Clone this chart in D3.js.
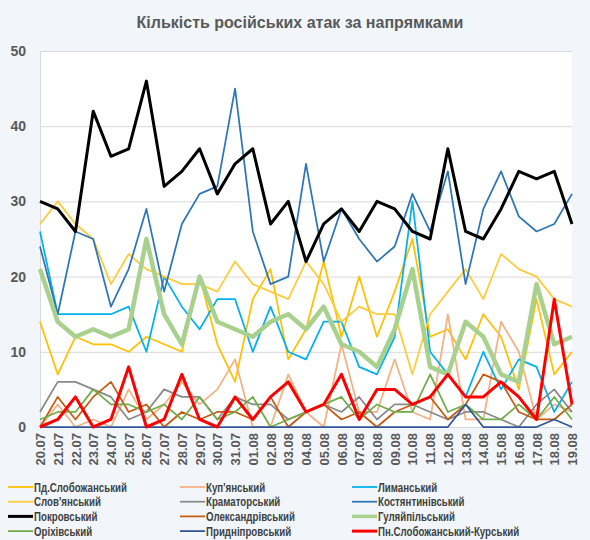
<!DOCTYPE html>
<html>
<head>
<meta charset="utf-8">
<script src="https://cdn.jsdelivr.net/npm/d3@7"></script>
<style>
    body { margin: 0; background: #F2F6FA; }
    #chart svg { display: block; }
</style>
</head>
<body>
<div id="chart"></div>
<script>
const dates = ["20.07", "21.07", "22.07", "23.07", "24.07", "25.07", "26.07", "27.07", "28.07", "29.07", "30.07", "31.07",
    "01.08", "02.08", "03.08", "04.08", "05.08", "06.08", "07.08", "08.08", "09.08", "10.08", "11.08", "12.08",
    "13.08", "14.08", "15.08", "16.08", "17.08", "18.08", "19.08"]

const seriesNames = ["Пд.Слобожанський", "Куп'янський", "Лиманський", "Слов'янський", "Краматорський", "Костянтинівський",
    "Покровський", "Олександрівський", "Гуляйпільський", "Оріхівський", "Придніпровський", "Пн.Слобожанський-Курський"]

const pdSlobozhanskyi = [14, 7, 12, 11, 11, 10, 12, 11, 10, 20, 11, 6, 17, 21, 9, 13, 22, 12, 20, 12, 18, 25, 12, 13, 9, 15, 12, 5, 17, 7, 10]
const kupianskyi = [0, 3, 0, 1, 0, 5, 1, 3, 6, 3, 5, 9, 0, 0, 7, 2, 0, 11, 2, 2, 9, 2, 1, 15, 1, 1, 14, 10, 1, 3, 2]
const lymanskyi = [26, 15, 15, 15, 15, 16, 10, 20, 16, 13, 17, 17, 10, 16, 10, 9, 14, 14, 8, 7, 12, 30, 10, 7, 4, 10, 5, 9, 8, 2, 6]
const sloviianskyi = [27, 30, 27, 25, 19, 23, 21, 20, 19, 19, 18, 22, 19, 18, 17, 22, 19, 14, 16, 15, 15, 7, 15, 18, 21, 17, 23, 21, 20, 17, 16]
const kramatorskyi = [2, 6, 6, 5, 4, 1, 2, 5, 4, 4, 1, 4, 3, 3, 1, 2, 3, 2, 4, 1, 3, 3, 2, 1, 2, 2, 1, 0, 3, 5, 2]
const kostiantynivskyi = [24, 15, 26, 25, 16, 21, 29, 18, 27, 31, 32, 45, 26, 19, 20, 35, 22, 29, 25, 22, 24, 31, 26, 34, 19, 29, 34, 28, 26, 27, 31]
const pokrovskyi = [30, 29, 26, 42, 36, 37, 46, 32, 34, 37, 31, 35, 37, 27, 30, 22, 27, 29, 26, 30, 29, 26, 25, 37, 26, 25, 29, 34, 33, 34, 27]
const oleksandrivskyi = [0, 4, 1, 4, 6, 2, 3, 0, 2, 1, 2, 2, 1, 4, 0, 2, 3, 1, 2, 0, 2, 3, 4, 1, 3, 7, 6, 2, 1, 1, 3]
const huliaipilskyi = [21, 14, 12, 13, 12, 13, 25, 15, 11, 20, 14, 13, 12, 14, 15, 13, 16, 11, 10, 8, 13, 21, 8, 7, 14, 12, 7, 6, 19, 11, 12]
const orikhivskyi = [1, 2, 2, 5, 3, 3, 2, 3, 1, 4, 1, 2, 4, 0, 1, 2, 3, 4, 1, 3, 2, 2, 7, 2, 3, 1, 1, 3, 1, 4, 1]
const prydniprovskyi = [0, 0, 0, 0, 0, 0, 0, 0, 0, 0, 0, 0, 0, 0, 0, 0, 0, 0, 0, 0, 0, 0, 0, 0, 3, 0, 0, 0, 0, 1, 0]
const pnSlobozhanskyiKurskyi = [0, 1, 4, 0, 1, 8, 0, 1, 7, 1, 0, 4, 1, 4, 6, 2, 3, 7, 1, 5, 5, 3, 4, 7, 4, 4, 6, 4, 1, 17, 3]

const yTicks = [0, 10, 20, 30, 40, 50]

const seriesValues = [pdSlobozhanskyi, kupianskyi, lymanskyi, sloviianskyi, kramatorskyi, kostiantynivskyi,
    pokrovskyi, oleksandrivskyi, huliaipilskyi, orikhivskyi, prydniprovskyi, pnSlobozhanskyiKurskyi]
const seriesColors = ["#FFC000", "#F4B183", "#00B0F0", "#FFCB3A", "#898989", "#2E75B6",
    "#000000", "#C55A11", "#A9D18E", "#70AD47", "#2F5597", "#FF0000"]
const seriesWidths = [1.75, 1.75, 1.75, 1.75, 1.75, 1.75, 3, 1.75, 4.5, 1.75, 1.75, 3]

DrawChart()

function DrawChart() {
    const xAccessor = d => d["Date"]
    const yAccessor = d => d["Value"]

    let dimensions = {
        width: 590,
        height: 540,
        margin: {top: 51, right: 18, bottom: 113, left: 40},
    }
    const plotWidth = dimensions.width - dimensions.margin.left - dimensions.margin.right
    const plotHeight = dimensions.height - dimensions.margin.top - dimensions.margin.bottom

    const wrapper = d3.select("#chart")
        .append("svg")
        .attr("width", dimensions.width)
        .attr("height", dimensions.height)
    wrapper.append("rect")
        .attr("width", dimensions.width)
        .attr("height", dimensions.height)
        .attr("fill", "#F2F6FA")

    wrapper.append("text")
        .attr("x", 300)
        .attr("y", 28)
        .attr("text-anchor", "middle")
        .attr("font-family", "Liberation Sans, Arial, sans-serif")
        .attr("font-size", 16)
        .attr("font-weight", "bold")
        .attr("fill", "#595959")
        .text("Кількість російських атак за напрямками")

    const bounds = wrapper.append("g")
        .attr("transform", "translate(" + dimensions.margin.left + "," + dimensions.margin.top + ")")

    bounds.append("rect")
        .attr("width", plotWidth)
        .attr("height", plotHeight)
        .attr("fill", "#FFFFFF")

    const xScale = d3.scalePoint()
        .domain(dates)
        .range([0, plotWidth])
    const yScale = d3.scaleLinear()
        .domain([0, 50])
        .range([plotHeight, 0])

    // gridlines + y labels
    const yAxis = bounds.append("g")
        .call(d3.axisLeft(yScale).tickValues(yTicks).tickSize(-plotWidth).tickPadding(14))
    yAxis.select(".domain").attr("stroke", "#D9D9D9")
    yAxis.selectAll(".tick line").attr("stroke", "#D9D9D9")
    yAxis.selectAll(".tick text")
        .attr("font-family", "Liberation Sans, Arial, sans-serif")
        .attr("font-size", 14)
        .attr("font-weight", "bold")
        .attr("fill", "#595959")

    // x labels, rotated
    const xAxis = bounds.append("g")
        .attr("transform", "translate(0," + plotHeight + ")")
        .call(d3.axisBottom(xScale).tickSize(0))
    xAxis.select(".domain").remove()
    xAxis.selectAll(".tick text")
        .attr("transform", "rotate(-90)")
        .attr("text-anchor", "end")
        .attr("dy", "0.35em")
        .attr("x", -6)
        .attr("y", 0)
        .attr("font-family", "Liberation Sans, Arial, sans-serif")
        .attr("font-size", 13)
        .attr("font-weight", "bold")
        .attr("fill", "#595959")

    const lineGenerator = d3.line()
        .x(d => xScale(xAccessor(d)))
        .y(d => yScale(yAccessor(d)))

    seriesValues.forEach((values, i) => {
        const dataset = values.map((v, j) => ({Date: dates[j], Value: v}))
        bounds.append("path")
            .attr("d", lineGenerator(dataset))
            .attr("fill", "none")
            .attr("stroke", seriesColors[i])
            .attr("stroke-width", seriesWidths[i])
            .attr("stroke-linejoin", "round")
    })

    // legend, 3 columns; the text is squeezed to look like a narrow font
    const legend = wrapper.append("g")
    const columnX = [8, 180, 352]
    let squeeze = 1
    seriesNames.forEach((name, i) => {
        const col = i % 3
        const row = Math.floor(i / 3)
        const item = legend.append("g")
            .attr("transform", "translate(" + columnX[col] + "," + (487 + row * 14.7) + ")")
        item.append("line")
            .attr("x1", 0)
            .attr("x2", 25)
            .attr("stroke", seriesColors[i])
            .attr("stroke-width", Math.min(seriesWidths[i], 3.5))
        const label = item.append("text")
            .attr("dy", "0.35em")
            .attr("font-family", "Liberation Sans, Arial, sans-serif")
            .attr("font-size", 13)
            .attr("font-weight", "bold")
            .attr("fill", "#404040")
            .text(name)
        if (i === 0) squeeze = 93 / label.node().getComputedTextLength()
        label.attr("transform", "translate(26,0) scale(" + squeeze + ",1)")
    })
}
</script>
</body>
</html>
